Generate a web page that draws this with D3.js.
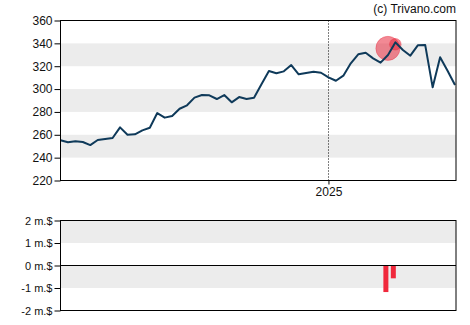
<!DOCTYPE html>
<html>
<head>
<meta charset="utf-8">
<script src="https://cdn.jsdelivr.net/npm/d3@7/dist/d3.min.js"></script>
<style>
  html, body { margin: 0; padding: 0; background: #fff; }
  svg { display: block; font-family: "Liberation Sans", Arial, sans-serif; }
</style>
</head>
<body>
<svg id="chart" width="470" height="325"></svg>
<script>
// Weekly closing prices (USD), starting 2024-04-24
const startDate = "2024-04-24";
const prices = [
  255.2, 253.4, 254.3, 253.7, 251.0, 255.4, 256.3, 257.2, 266.5, 260.0,
  260.4, 263.9, 266.2, 279.0, 275.0, 276.4, 282.8, 285.8, 292.5, 294.8,
  294.5, 291.3, 294.8, 288.4, 293.0, 291.3, 292.4, 304.2, 315.8, 313.8,
  315.5, 321.0, 312.9, 314.0, 315.2, 314.3, 310.3, 307.3, 311.7, 322.5,
  330.4, 331.8, 326.9, 323.1, 329.8, 340.9, 334.2, 329.2, 338.3, 338.5,
  301.5, 327.8, 316.0, 303.5
];

// Insider transactions (million USD, negative = sale)
const tradeDates = ["2025-02-24", "2025-03-03"];
const tradeAmounts = [-1.18, -0.57];
const tradePrices = [335.6, 339.2];

// Axis ticks
const priceTicks = [220, 240, 260, 280, 300, 320, 340, 360];
const priceBands = [[240, 260], [280, 300], [320, 340]];
const flowTicks = [-2, -1, 0, 1, 2];
const flowBands = [[-1, 0], [1, 2]];
const yearTicks = ["2025-01-01"];

const parse = d3.utcParse("%Y-%m-%d");
const t0 = parse(startDate);
const series = prices.map((v, i) => ({ date: d3.utcDay.offset(t0, i * 7), value: v }));
const trades = tradeDates.map((d, i) => ({ date: parse(d), amount: tradeAmounts[i], price: tradePrices[i] }));

const svg = d3.select("#chart");
const left = 60.5, right = 456;

const x = d3.scaleUtc()
  .domain(d3.extent(series, d => d.date))
  .range([left, 455]);

// ---------- price panel ----------
const yTop = 20.5, yBot = 180.5;
const y = d3.scaleLinear().domain([220, 360]).range([yBot, yTop]);

const main = svg.append("g");
main.selectAll("rect.band").data(priceBands).join("rect")
  .attr("x", left).attr("width", right - left)
  .attr("y", d => y(d[1])).attr("height", d => y(d[0]) - y(d[1]))
  .attr("fill", "#ececec");

svg.append("clipPath").attr("id", "clipMain")
  .append("rect").attr("x", left).attr("y", yTop).attr("width", right - left).attr("height", yBot - yTop);

// year divider
main.selectAll("line.year").data(yearTicks).join("line")
  .attr("x1", d => Math.round(x(parse(d))) + 0.5).attr("x2", d => Math.round(x(parse(d))) + 0.5)
  .attr("y1", yTop).attr("y2", yBot)
  .attr("stroke", "#000").attr("stroke-width", 1).attr("stroke-dasharray", "1,2");

// insider trade markers, radius proportional to amount
const r = d3.scaleLinear().domain([0, 1]).range([0, 10.2]);
main.append("g").attr("clip-path", "url(#clipMain)")
  .selectAll("circle").data(trades).join("circle")
  .attr("cx", d => x(d.date) + 2).attr("cy", d => y(d.price))
  .attr("r", d => r(Math.abs(d.amount)))
  .attr("fill", "#e8283c").attr("fill-opacity", 0.55)
  .attr("stroke", "#e8283c").attr("stroke-opacity", 0.35);

// price line
main.append("path").datum(series)
  .attr("clip-path", "url(#clipMain)")
  .attr("fill", "none").attr("stroke", "#0f3a5a").attr("stroke-width", 2)
  .attr("stroke-linejoin", "round")
  .attr("d", d3.line().x(d => x(d.date)).y(d => y(d.value)));

// frame
main.append("rect").attr("x", left).attr("y", yTop).attr("width", right - left).attr("height", yBot - yTop)
  .attr("fill", "none").attr("stroke", "#000");

// left axis
const yAxis = main.append("g").attr("transform", `translate(${left},0)`)
  .call(d3.axisLeft(y).tickValues(priceTicks).tickSize(6).tickPadding(2).tickFormat(d3.format("d")));
yAxis.select(".domain").remove();
yAxis.selectAll("text").attr("font-size", 12).attr("fill", "#111").attr("font-family", "Liberation Sans, Arial, sans-serif");
yAxis.selectAll("line").attr("stroke", "#000");

// bottom axis
const xAxis = main.append("g").attr("transform", `translate(0,${yBot})`)
  .call(d3.axisBottom(x).tickValues(yearTicks.map(parse)).tickSize(4).tickPadding(3).tickFormat(d3.utcFormat("%Y")));
xAxis.select(".domain").remove();
xAxis.selectAll("text").attr("font-size", 12).attr("fill", "#111").attr("font-family", "Liberation Sans, Arial, sans-serif");
xAxis.selectAll("line").attr("stroke", "#000");

// credit
svg.append("text").attr("x", 456).attr("y", 13).attr("text-anchor", "end")
  .attr("font-size", 12).attr("fill", "#111").text("(c) Trivano.com");

// ---------- insider flow panel ----------
const fTop = 220.5, fBot = 310.5;
const yf = d3.scaleLinear().domain([-2, 2]).range([fBot, fTop]);
const flow = svg.append("g");

flow.selectAll("rect.band").data(flowBands).join("rect")
  .attr("x", left).attr("width", right - left)
  .attr("y", d => yf(d[1])).attr("height", d => yf(d[0]) - yf(d[1]))
  .attr("fill", "#ececec");

flow.selectAll("rect.bar").data(trades).join("rect")
  .attr("x", d => x(d.date) - 2.5).attr("width", 5)
  .attr("y", d => yf(Math.max(0, d.amount)))
  .attr("height", d => Math.abs(yf(d.amount) - yf(0)))
  .attr("fill", "#f0283c");

flow.append("line").attr("x1", left).attr("x2", right)
  .attr("y1", yf(0)).attr("y2", yf(0)).attr("stroke", "#000");

flow.append("rect").attr("x", left).attr("y", fTop).attr("width", right - left).attr("height", fBot - fTop)
  .attr("fill", "none").attr("stroke", "#000");

const fAxis = flow.append("g").attr("transform", `translate(${left},0)`)
  .call(d3.axisLeft(yf).tickValues(flowTicks).tickSize(6).tickPadding(2).tickFormat(d => String(d) + " m.$"));
fAxis.select(".domain").remove();
fAxis.selectAll("text").attr("font-size", 11).attr("fill", "#111").attr("font-family", "Liberation Sans, Arial, sans-serif");
fAxis.selectAll("line").attr("stroke", "#000");
</script>
</body>
</html>
